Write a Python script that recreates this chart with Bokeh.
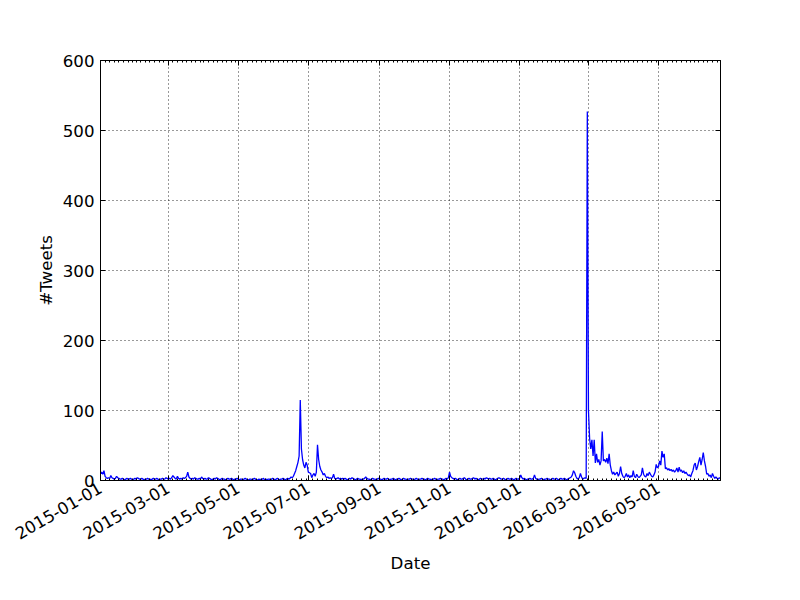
import math
import pandas as pd
from bokeh.plotting import figure
from bokeh.models import (ColumnDataSource, Range1d, FixedTicker, DatetimeTickFormatter,
                          DatetimeAxis, LinearAxis, CustomLabelingPolicy)
from bokeh.embed import file_html
from bokeh.resources import INLINE

# ---- data: daily tweet counts, 2015-01-01 .. 2016-06-24 ----
jan15 = [10, 12, 9, 14, 6, 4, 3, 4, 3, 7, 4, 3, 2, 3, 6, 4, 3, 2, 2, 3, 2, 1, 2, 3, 2, 2, 3, 2, 1, 2, 3]
feb15 = [2, 4, 3, 2, 2, 3, 2, 1, 2, 2, 3, 2, 2, 1, 2, 3, 2, 2, 3, 2, 1, 2, 2, 3, 2, 2, 4, 3]
mar15 = [2, 3, 2, 4, 7, 5, 3, 2, 6, 3, 2, 3, 2, 4, 3, 4, 6, 12, 5, 3, 2, 3, 2, 4, 3, 2, 2, 3, 2, 5, 3]
apr15 = [2, 3, 2, 2, 4, 3, 2, 1, 2, 3, 2, 4, 3, 2, 1, 2, 3, 2, 2, 1, 2, 3, 2, 2, 3, 2, 1, 2, 2, 3]
may15 = [2, 1, 2, 2, 1, 2, 3, 2, 1, 1, 2, 2, 1, 2, 3, 2, 1, 1, 2, 1, 2, 2, 3, 1, 2, 1, 2, 2, 1, 2, 3]
jun15 = [2, 1, 2, 3, 2, 1, 2, 2, 3, 2, 1, 2, 3, 2,
         3, 5, 4, 6, 10, 14, 20, 26, 35, 115,
         45, 30, 22, 18, 26, 22]
jul15 = [12, 11, 10, 4, 8, 10, 6, 12, 51, 30, 20, 15, 12, 8, 10, 6, 4, 5, 3, 4, 3,
         4, 9, 3, 2, 3, 4, 2, 3, 2, 3]
aug15 = [2, 3, 2, 1, 2, 3, 2, 4, 3, 2, 1, 2, 3, 2, 2, 1, 2, 2, 3, 5, 3, 2, 2, 1, 2, 3, 2, 2, 1, 2, 3]
sep15 = [2, 2, 1, 2, 3, 2, 2, 3, 2, 1, 2, 2, 3, 2, 1, 2, 2, 3, 2, 1, 2, 3, 2, 2, 1, 2, 2, 3, 2, 2]
oct15 = [1, 2, 3, 2, 1, 2, 2, 3, 2, 2, 1, 2, 3, 2, 2, 1, 2, 2, 3, 2, 1, 2, 2, 3, 2, 2, 1, 2, 3, 2, 4]
nov15 = [12, 6, 4, 3, 2, 3, 2, 1, 2, 3, 2, 2, 3, 4, 2, 1, 2, 3, 2, 2, 3, 4, 2, 3, 2, 1, 2, 3, 2, 2]
dec15 = [3, 2, 4, 3, 2, 3, 2, 2, 3, 2, 1, 2, 3, 4, 3, 2, 2, 3, 2, 1, 2, 3, 2, 2, 3, 2, 1, 2, 3, 2, 2]
jan16 = [3, 8, 4, 2, 3, 2, 1, 2, 2, 3, 2, 2, 3, 8, 3, 2, 1, 2, 2, 3, 2, 1, 2, 2, 3, 2, 2, 1, 2, 3, 2]
feb16 = [2, 3, 2, 1, 2, 3, 2, 2, 3, 2, 1, 2, 3, 4, 5, 8, 14, 11, 6, 3, 2, 4, 10, 5, 2, 3, 4, 3, 527]
mar16 = [100, 60, 45, 58, 35, 58, 25, 38, 26, 30, 22, 28, 70, 28, 30, 26, 32, 24, 38, 22,
         14, 9, 12, 8, 10, 12, 6, 10, 20, 10, 6]
apr16 = [4, 6, 10, 5, 8, 4, 7, 5, 14, 6, 4, 9, 6, 4, 6, 8, 18, 9, 6, 5, 10, 7, 12, 9, 6, 5, 8, 12, 23, 18]
may16 = [20, 28, 22, 42, 33, 38, 17, 18, 15, 17, 14, 16, 13, 15, 12, 14, 18, 12, 19, 13,
         15, 11, 14, 10, 12, 9, 7, 8, 5, 10, 14]
jun16 = [22, 25, 15, 20, 27, 33, 22, 30, 40, 28, 20, 9, 10, 6, 8, 4, 10, 6, 3, 5, 3, 2, 4, 3]

start_date = "2015-01-01"
x_tick_labels = ["2015-01-01", "2015-03-01", "2015-05-01", "2015-07-01", "2015-09-01",
                 "2015-11-01", "2016-01-01", "2016-03-01", "2016-05-01"]
y_ticks = [0, 100, 200, 300, 400, 500, 600]

tweets = (jan15 + feb15 + mar15 + apr15 + may15 + jun15 + jul15 + aug15 + sep15 + oct15 +
          nov15 + dec15 + jan16 + feb16 + mar16 + apr16 + may16 + jun16)
dates = pd.date_range(start_date, periods=len(tweets), freq="D")
src = ColumnDataSource(dict(date=dates, tweets=tweets))

def ms(ts):
    return pd.Timestamp(ts).value / 1e6

major_ms = [ms(d) for d in x_tick_labels]
minor_ms = [ms(d) for d in dates if d.day in (1, 5, 9, 13, 17, 21, 25, 29)]

FONT = "DejaVu Sans"
FS = "16.67px"

p = figure(width=784, height=584, x_axis_type="datetime",
           output_backend="svg", toolbar_location=None,
           x_range=Range1d(dates[0], dates[-1]), y_range=Range1d(0, 600),
           min_border_left=100, min_border_right=64, min_border_top=60, min_border_bottom=104)
p.background_fill_color = "white"
p.border_fill_color = "white"
p.outline_line_color = "black"
p.outline_line_width = 1

p.line("date", "tweets", source=src, line_color="#0000ff", line_width=1.3)

xt = FixedTicker(ticks=major_ms, minor_ticks=minor_ms)
yt = FixedTicker(ticks=y_ticks, minor_ticks=[])
fmt = "%Y-%m-%d"
xfmt = DatetimeTickFormatter(milliseconds=fmt, seconds=fmt, minsec=fmt, minutes=fmt,
                             hourmin=fmt, hours=fmt, days=fmt, months=fmt, years=fmt)

xa = p.xaxis[0]
xa.ticker = xt
xa.formatter = xfmt
xa.major_label_orientation = math.pi / 6
xa.axis_label = "Date"

ya = p.yaxis[0]
ya.ticker = yt
ya.axis_label = "#Tweets"

no_labels = CustomLabelingPolicy(code="""
const n = indices.size;
for (let i = 0; i < n; i++) { indices.unset(i) }
return indices;
""")
top = DatetimeAxis(ticker=xt, formatter=xfmt, major_label_policy=no_labels)
right = LinearAxis(ticker=yt, major_label_policy=no_labels)
p.add_layout(top, "above")
p.add_layout(right, "right")

for ax in (xa, ya, top, right):
    ax.axis_line_color = "black"
    ax.axis_line_width = 1
    ax.major_tick_in = 5
    ax.major_tick_out = 0
    ax.minor_tick_in = 2
    ax.minor_tick_out = 0
    ax.major_tick_line_color = "black"
    ax.minor_tick_line_color = "black"
    ax.major_label_standoff = 6
for ax in (xa, ya):
    ax.major_label_text_font = FONT
    ax.major_label_text_font_size = FS
    ax.major_label_text_color = "black"
    ax.axis_label_text_font = FONT
    ax.axis_label_text_font_size = FS
    ax.axis_label_text_font_style = "normal"
    ax.axis_label_text_color = "black"
ya.axis_label_standoff = 4
xa.axis_label_standoff = 6

for g in (p.xgrid[0], p.ygrid[0]):
    g.grid_line_color = "black"
    g.grid_line_width = 1
    g.grid_line_alpha = 0.8
    g.grid_line_dash = "1 3"
p.xgrid[0].ticker = xt
p.ygrid[0].ticker = yt

open("out.html", "w").write(file_html(p, INLINE))
